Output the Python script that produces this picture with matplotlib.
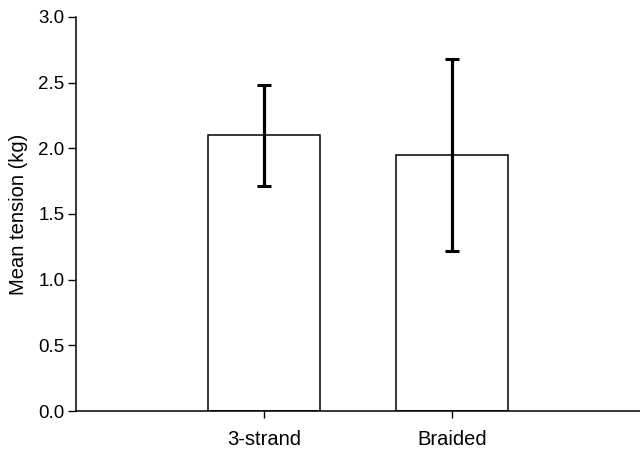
import numpy as np
import matplotlib.pyplot as plt

plt.rcParams['font.family'] = ['Liberation Sans', 'DejaVu Sans']

categories = ['3-strand', 'Braided']
mean_tension = [2.10, 1.95]
err_low = [1.71, 1.22]
err_high = [2.48, 2.68]

x = np.arange(len(categories))
means = np.array(mean_tension)
yerr = [means - np.array(err_low), np.array(err_high) - means]

fig = plt.figure(figsize=(6.4, 4.54), dpi=100)
ax = fig.add_axes([0.119, 0.0947, 0.881, 0.868])

ax.bar(x, means, width=0.6, color='white', edgecolor='black', linewidth=1.1,
       zorder=2)
ax.errorbar(x, means, yerr=yerr, fmt='none', ecolor='black', elinewidth=2.3,
            capsize=4.7, capthick=2.2, zorder=3)

ax.set_xlim(-1, 2)
ax.set_ylim(0, 3.0)
ax.set_yticks(np.arange(0, 3.01, 0.5))
ax.set_yticklabels([f'{v:.1f}' for v in np.arange(0, 3.01, 0.5)])
ax.set_xticks(x)
ax.set_xticklabels(categories)
ax.set_ylabel('Mean tension (kg)', fontsize=14.5, labelpad=7)

ax.tick_params(axis='y', direction='out', length=5.5, width=1, labelsize=13.5,
               pad=3)
ax.tick_params(axis='x', direction='out', length=5, width=1, labelsize=14.5,
               pad=9)
for side in ['top', 'right']:
    ax.spines[side].set_visible(False)
for side in ['left', 'bottom']:
    ax.spines[side].set_linewidth(1.1)

fig.savefig('out.png', dpi=100)
